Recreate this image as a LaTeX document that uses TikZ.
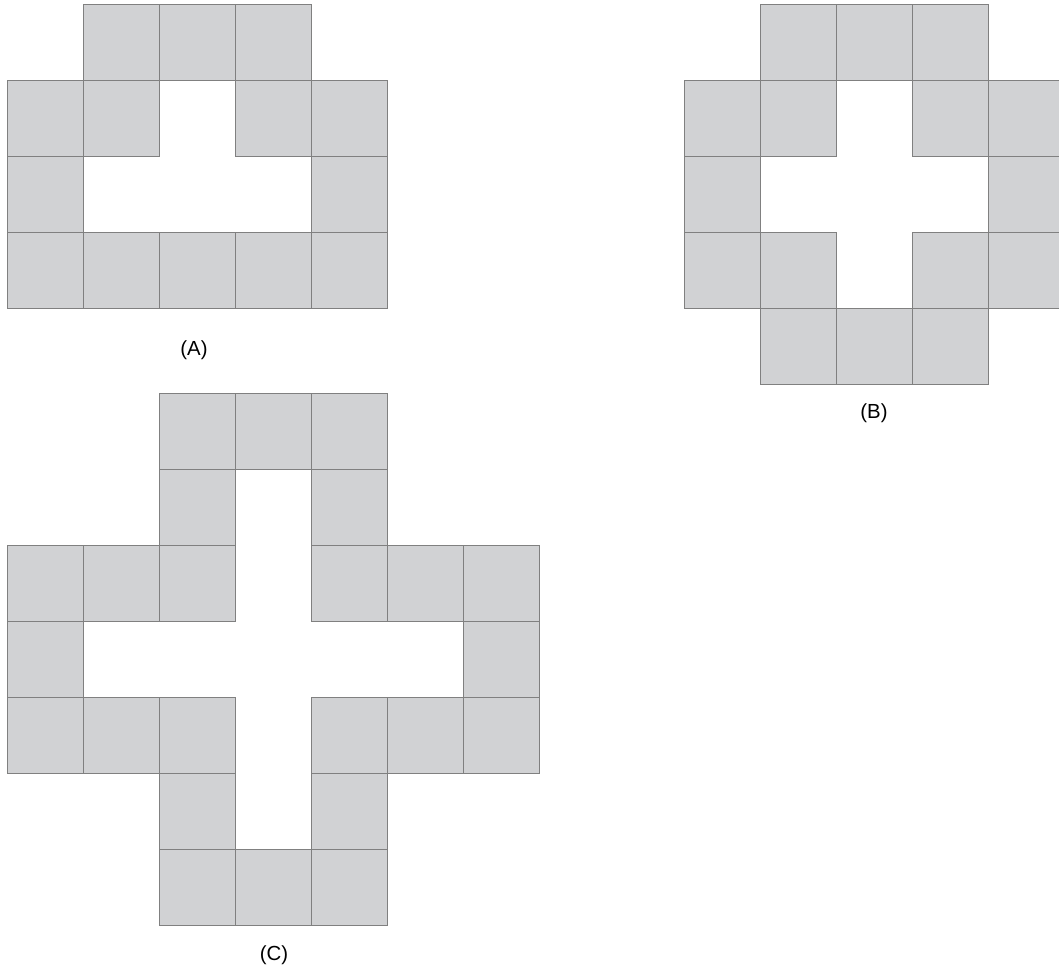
\documentclass[tikz,border=0pt]{standalone}
\usepackage{fontspec}
\setmainfont{Liberation Sans}
\usepackage{tikz}
\definecolor{TileGray}{RGB}{209,210,212}
\tikzset{
	tile/.style={fill=TileGray, draw=black!50, line width=0.7pt},
	caption/.style={font=\fontsize{14.5}{17}\selectfont, inner sep=0pt}
}

\begin{document}
\begin{tikzpicture}[line cap=rect, line join=miter]
			
			% page frame
			\clip (0,0) rectangle (26.475,-24.225);
			
			% Figure (A)
			\begin{scope}[shift={(0.175,-0.1)}, x=1.9cm, y=1.9cm]
				\foreach \c/\r in {1/0,2/0,3/0, 0/1,1/1,3/1,4/1, 0/2,4/2, 0/3,1/3,2/3,3/3,4/3}
				\draw[tile] (\c,-\r) rectangle ++(1,-1);
			\end{scope}
			\node[caption] (capA) at (4.85,-8.75) {(A)};
			
			% Figure (B)
			\begin{scope}[shift={(17.1,-0.1)}, x=1.9cm, y=1.9cm]
				\foreach \c/\r in {1/0,2/0,3/0, 0/1,1/1,3/1,4/1, 0/2,4/2, 0/3,1/3,3/3,4/3, 1/4,2/4,3/4}
				\draw[tile] (\c,-\r) rectangle ++(1,-1);
			\end{scope}
			\node[caption] (capB) at (21.85,-10.33) {(B)};
			
			% Figure (C)
			\begin{scope}[shift={(0.175,-9.825)}, x=1.9cm, y=1.9cm]
				\foreach \c/\r in {2/0,3/0,4/0, 2/1,4/1, 0/2,1/2,2/2,4/2,5/2,6/2, 0/3,6/3,
					0/4,1/4,2/4,4/4,5/4,6/4, 2/5,4/5, 2/6,3/6,4/6}
				\draw[tile] (\c,-\r) rectangle ++(1,-1);
			\end{scope}
			\node[caption] (capC) at (6.85,-23.88) {(C)};
			
		\end{tikzpicture}
\end{document}
